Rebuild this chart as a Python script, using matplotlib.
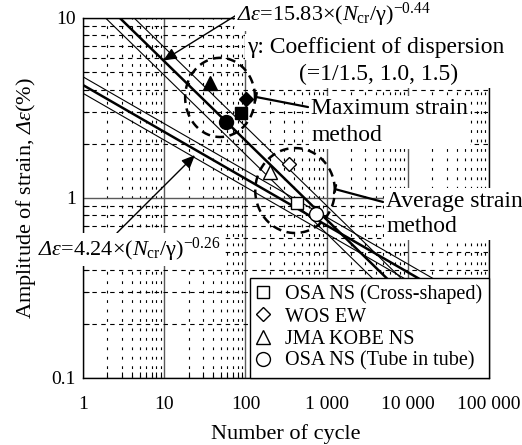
import numpy as np
import matplotlib.pyplot as plt
from matplotlib.patches import Rectangle
from matplotlib.ticker import FixedLocator, LogLocator, NullFormatter

plt.rcParams['font.family'] = ['Liberation Serif', 'DejaVu Serif']
plt.rcParams['mathtext.fontset'] = 'custom'
plt.rcParams['mathtext.rm'] = 'Liberation Serif'
plt.rcParams['mathtext.it'] = 'Liberation Serif:italic'
# sf slot used for italic greek (it slot keeps capitals upright)
plt.rcParams['mathtext.sf'] = 'Liberation Serif:italic'

# fitted curves: strain = coef * (N / gamma) ** expo
max_coef, max_expo = 15.83, -0.44
avg_coef, avg_expo = 4.24, -0.26
gammas = [1 / 1.5, 1.0, 1.5]

# test records, order: square, diamond, triangle, circle
cases = ['OSA NS (Cross-shaped)', 'WOS EW', 'JMA KOBE NS', 'OSA NS (Tube in tube)']
max_cycles = [88, 102, 36.6, 58]
max_strain = [2.97, 3.55, 4.35, 2.64]
avg_cycles = [432, 344, 201, 741]
avg_strain = [0.94, 1.55, 1.39, 0.815]

x_ticks = [1, 10, 100, 1000, 10000, 100000]
x_ticklabels = ['1', '10', '100', '1 000', '10 000', '100 000']
y_ticks = [0.1, 1, 10]
y_ticklabels = ['0.1', '1', '10']


def ring(ax, cx, cy, rx, ry):
    # dashed ellipse, round in log space
    t = np.linspace(0, 2 * np.pi, 300)
    xs = 10 ** (np.log10(cx) + rx * np.cos(t))
    ys = 10 ** (np.log10(cy) + ry * np.sin(t))
    ax.plot(xs, ys, color='k', lw=1.8, dashes=(3.5, 2.2), zorder=3)


fig = plt.figure(figsize=(5.22, 4.45), dpi=100)
ax = fig.add_axes([0.159, 0.1506, 0.778, 0.809])
ax.set_xscale('log')
ax.set_yscale('log')
ax.set_xlim(1, 1e5)
ax.set_ylim(0.1, 10)

ax.xaxis.set_major_locator(FixedLocator(x_ticks))
ax.set_xticklabels(x_ticklabels)
ax.yaxis.set_major_locator(FixedLocator(y_ticks))
ax.set_yticklabels(y_ticklabels)
ax.xaxis.set_minor_locator(LogLocator(base=10, subs=np.arange(2, 10), numticks=20))
ax.yaxis.set_minor_locator(LogLocator(base=10, subs=np.arange(2, 10), numticks=20))
ax.xaxis.set_minor_formatter(NullFormatter())
ax.yaxis.set_minor_formatter(NullFormatter())
ax.tick_params(which='major', length=0, labelsize=14)
ax.tick_params(axis='x', which='major', pad=13)
ax.tick_params(axis='y', which='major', pad=5)
ax.tick_params(which='minor', direction='in', length=4, width=0.8)

ax.grid(which='major', color='#5a5a5a', lw=1.0)
ax.xaxis.grid(which='minor', color='k', lw=0.8, ls=(0, (2.5, 6)))
ax.yaxis.grid(which='minor', color='k', lw=0.8, ls=(0, (4, 4)))
ax.set_axisbelow(True)
for s in ax.spines.values():
    s.set_linewidth(1.0)

# blank block behind the dispersion note
ax.add_patch(Rectangle((0.405, 0.806), 0.7, 0.3, transform=ax.transAxes,
                       fc='white', ec='none', clip_on=False, zorder=2.6))

n = np.array([1, 1e5])
for g in gammas:
    w = 1.8 if g == 1.0 else 0.8
    ax.plot(n, max_coef * (n / g) ** max_expo, color='k', lw=w, zorder=2)
    ax.plot(n, avg_coef * (n / g) ** avg_expo, color='k', lw=w, zorder=2)

marks = ['s', 'D', '^', 'o']
sizes = [9, 7.5, 10, 10]
for i in range(4):
    ax.plot(max_cycles[i], max_strain[i], marker=marks[i], ms=sizes[i],
            color='k', ls='none', zorder=4)
    ax.plot(avg_cycles[i], avg_strain[i], marker=marks[i], ms=sizes[i],
            mfc='white', mec='k', mew=1.0, ls='none', zorder=4, label=cases[i])

ring(ax, 48.7, 3.62, 0.43, 0.22)
ring(ax, 408, 1.1, 0.49, 0.236)

white = dict(boxstyle='square,pad=0.1', fc='white', ec='none')

# equation pointers
ax.annotate('', xy=(9.7, 5.8), xytext=(0.382, 1.011), xycoords='data',
            textcoords='axes fraction',
            arrowprops=dict(arrowstyle='-|>,head_length=0.8,head_width=0.35',
                            color='k', lw=1.0, shrinkA=0, shrinkB=0), zorder=5)
ax.annotate('', xy=(23.9, 1.73), xytext=(2.62, 0.64),
            arrowprops=dict(arrowstyle='-|>,head_length=0.8,head_width=0.35',
                            color='k', lw=1.0, shrinkA=0, shrinkB=0), zorder=5)

ax.text(0.379, 1.008, r'$\mathsf{Δε}$=15.83×($\mathit{N}_{\rm cr}$/γ)$^{-0.44}$',
        transform=ax.transAxes, fontsize=16, ha='left', va='center',
        bbox=white, zorder=6)
ax.text(0.404, 0.919, 'γ: Coefficient of dispersion', transform=ax.transAxes,
        fontsize=17, ha='left', va='center', bbox=white, zorder=6)
ax.text(0.727, 0.842, '(=1/1.5, 1.0, 1.5)', transform=ax.transAxes,
        fontsize=17, ha='center', va='center', bbox=white, zorder=6)
ax.text(-0.111, 0.356, r'$\mathsf{Δε}$=4.24×($\mathit{N}_{\rm cr}$/γ)$^{-0.26}$',
        transform=ax.transAxes, fontsize=16, ha='left', va='center',
        bbox=white, zorder=6)

# method labels with leader lines
lead = dict(arrowstyle='-[,widthB=0.3,lengthB=0', color='k', lw=1.6,
            shrinkA=0, shrinkB=0)
ax.annotate('', xy=(135, 3.64), xytext=(590, 3.2), arrowprops=lead, zorder=5)
ax.annotate('', xy=(1268, 1.12), xytext=(4950, 0.95), arrowprops=lead, zorder=5)
ax.text(643, 2.64, 'Maximum strain\nmethod', fontsize=17, ha='left',
        va='center', linespacing=1.4, bbox=white, zorder=6)
ax.text(5400, 0.815, 'Average strain\nmethod', fontsize=17, ha='left',
        va='center', linespacing=1.3, bbox=white, zorder=6, clip_on=False)

leg = ax.legend(loc='lower right', fontsize=14.5, frameon=True, fancybox=False,
                edgecolor='k', framealpha=1, borderaxespad=0, borderpad=0.35,
                handlelength=0.6, handletextpad=0.8, labelspacing=0.15)
leg.get_frame().set_linewidth(1.0)
leg.set_zorder(7)

ax.set_xlabel('Number of cycle', fontsize=16, labelpad=8)
ax.set_ylabel(r'Amplitude of strain, $\mathsf{Δε}$(%)', fontsize=16, labelpad=10)

fig.savefig('out.png', dpi=100)
